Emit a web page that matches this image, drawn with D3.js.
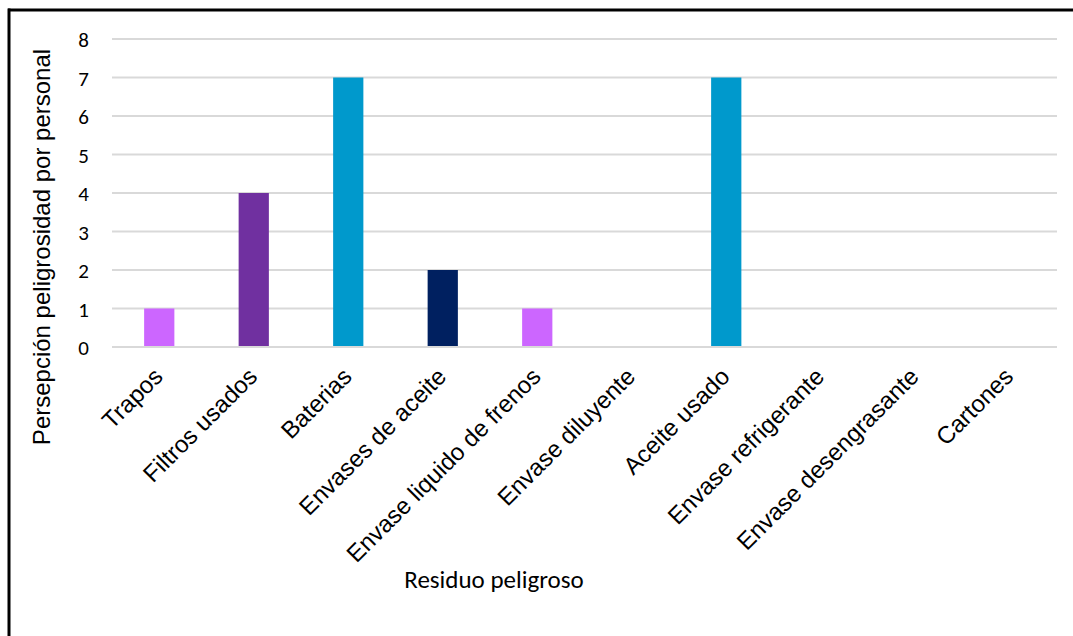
<!DOCTYPE html>
<html>
<head>
<meta charset="utf-8">
<script src="https://cdn.jsdelivr.net/npm/d3@7/dist/d3.min.js"></script>
<style>
  html, body { margin: 0; padding: 0; background: #fff; }
  svg { display: block; }
</style>
</head>
<body>
<svg id="chart" width="1073" height="636"></svg>
<script>
// Waste types and the number of staff who perceive each as hazardous
const categories = [
  "Trapos", "Filtros usados", "Baterias", "Envases de aceite",
  "Envase liquido de frenos", "Envase diluyente", "Aceite usado",
  "Envase refrigerante", "Envase desengrasante", "Cartones"
];
const values = [1, 4, 7, 2, 1, 0, 7, 0, 0, 0];
const barColors = [
  "#CC66FF", "#7030A0", "#0099CC", "#002060", "#CC66FF",
  "#CC66FF", "#0099CC", "#CC66FF", "#CC66FF", "#CC66FF"
];
const yTicks = [0, 1, 2, 3, 4, 5, 6, 7, 8];
const yTitle = "Persepción peligrosidad por personal";
const xTitle = "Residuo peligroso";

const svg = d3.select("#chart");

// frame lines (top and left)
svg.append("line").attr("x1", 8).attr("x2", 1073).attr("y1", 10).attr("y2", 10)
  .attr("stroke", "#000").attr("stroke-width", 3);
svg.append("line").attr("x1", 9).attr("x2", 9).attr("y1", 8.5).attr("y2", 636)
  .attr("stroke", "#000").attr("stroke-width", 3);

const plot = { left: 112, right: 1057, top: 39, bottom: 347 };

const x = d3.scaleBand()
  .domain(categories)
  .range([plot.left, plot.right])
  .paddingInner(0.68)
  .paddingOuter(0.34);

const y = d3.scaleLinear()
  .domain([0, 8])
  .range([plot.bottom, plot.top]);

// horizontal gridlines
svg.append("g")
  .selectAll("line")
  .data(yTicks)
  .join("line")
  .attr("x1", plot.left)
  .attr("x2", plot.right)
  .attr("y1", d => y(d))
  .attr("y2", d => y(d))
  .attr("stroke", "#d9d9d9")
  .attr("stroke-width", 1.8);

// y-axis tick labels
const yAxis = d3.axisLeft(y).tickValues(yTicks).tickSize(0).tickPadding(0);
const gy = svg.append("g")
  .attr("transform", `translate(${plot.left - 23},0)`)
  .call(yAxis);
gy.select(".domain").remove();
gy.selectAll("text")
  .attr("font-family", "Carlito, Lato, 'Open Sans', sans-serif")
  .attr("font-size", 21)
  .attr("fill", "#000")
  .attr("dy", "0.36em");

// bars
svg.append("g")
  .selectAll("rect")
  .data(categories.map((c, i) => ({ c, v: values[i], color: barColors[i] })))
  .join("rect")
  .attr("x", d => x(d.c))
  .attr("width", x.bandwidth())
  .attr("y", d => y(d.v))
  .attr("height", d => y(0) - y(d.v))
  .attr("fill", d => d.color);

// redraw the baseline over the bars
svg.append("line")
  .attr("x1", plot.left).attr("x2", plot.right)
  .attr("y1", y(0)).attr("y2", y(0))
  .attr("stroke", "#d9d9d9").attr("stroke-width", 1.8);

// x-axis category labels, rotated
const xAxis = d3.axisBottom(x).tickSize(0).tickPadding(0);
const gx = svg.append("g")
  .attr("transform", `translate(0,${plot.bottom})`)
  .call(xAxis);
gx.select(".domain").remove();
gx.selectAll("text")
  .attr("font-family", "'Liberation Sans', Arial, sans-serif")
  .attr("font-size", 24)
  .attr("fill", "#000")
  .attr("text-anchor", "end")
  .attr("dy", null)
  .attr("y", null)
  .attr("transform", "translate(5,31) rotate(-45)");

// axis titles
svg.append("text")
  .attr("transform", `translate(50,247) rotate(-90)`)
  .attr("text-anchor", "middle")
  .attr("font-family", "'Liberation Sans', Arial, sans-serif")
  .attr("font-size", 24)
  .attr("fill", "#000")
  .text(yTitle);

svg.append("text")
  .attr("x", 494)
  .attr("y", 588)
  .attr("text-anchor", "middle")
  .attr("font-family", "Carlito, Lato, 'Open Sans', sans-serif")
  .attr("font-size", 25)
  .attr("fill", "#000")
  .text(xTitle);
</script>
</body>
</html>
